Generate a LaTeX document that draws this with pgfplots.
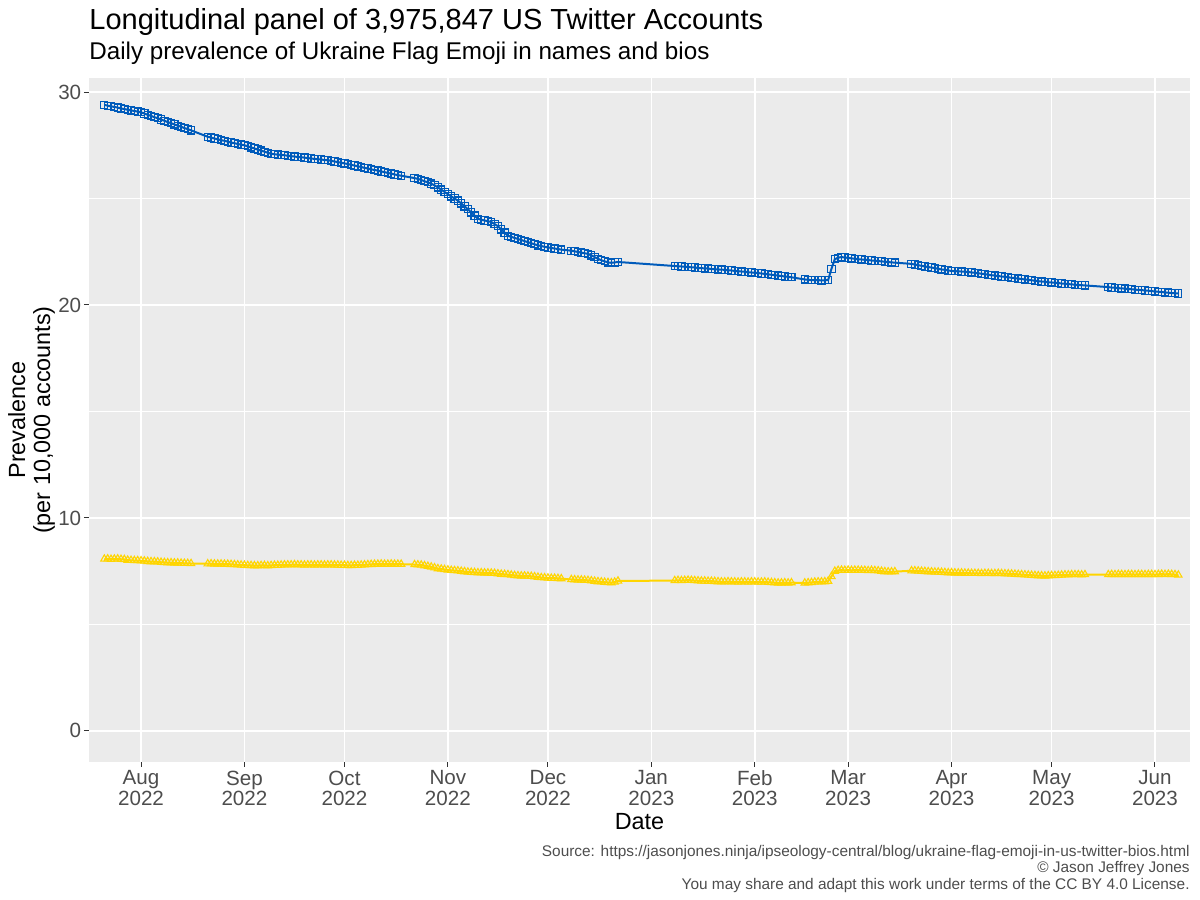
\documentclass[border=0pt]{standalone}
\usepackage{fontspec}
\setmainfont{Liberation Sans}
\usepackage{pgfplots}
\usepackage{pgfplotstable}
\pgfplotsset{compat=1.18}
\definecolor{ukblue}{HTML}{005BBB}
\definecolor{ukyellow}{HTML}{FFD500}
\definecolor{panelgray}{HTML}{EBEBEB}
\definecolor{gray30}{HTML}{4D4D4D}
\definecolor{gray20}{HTML}{333333}

\pgfplotstableread{
d v
-11 29.40
-10 29.36
-9 29.33
-8 29.30
-7 29.27
-6 29.23
-5 29.20
-4 29.17
-3 29.14
-2 29.11
-1 29.08
0 29.05
1 28.99
2 28.93
3 28.88
4 28.82
5 28.77
6 28.71
7 28.65
8 28.59
9 28.54
10 28.48
11 28.42
12 28.37
13 28.31
14 28.26
15 28.20
20 27.90
21 27.86
22 27.82
23 27.78
24 27.74
25 27.71
26 27.67
27 27.63
28 27.60
29 27.56
30 27.53
31 27.50
32 27.45
33 27.40
34 27.35
35 27.30
36 27.25
37 27.20
38 27.15
39 27.10
40 27.08
41 27.06
42 27.05
43 27.03
44 27.01
45 26.99
46 26.97
47 26.95
48 26.94
49 26.92
50 26.90
51 26.88
52 26.86
53 26.85
54 26.83
55 26.81
56 26.80
57 26.77
58 26.74
59 26.71
60 26.68
61 26.65
62 26.62
63 26.58
64 26.55
65 26.51
66 26.48
67 26.44
68 26.41
69 26.37
70 26.34
71 26.31
72 26.27
73 26.24
74 26.20
75 26.17
76 26.13
77 26.10
78 26.07
82 25.96
83 25.92
84 25.87
85 25.81
86 25.76
87 25.70
88 25.62
89 25.52
90 25.42
91 25.31
92 25.20
93 25.10
94 25.00
95 24.90
96 24.77
97 24.63
98 24.50
99 24.35
100 24.20
101 24.05
102 24.00
103 23.97
104 23.93
105 23.90
106 23.80
107 23.70
108 23.55
109 23.40
110 23.25
111 23.20
112 23.15
113 23.10
114 23.05
115 23.00
116 22.95
117 22.90
118 22.85
119 22.80
120 22.77
121 22.73
122 22.70
123 22.68
124 22.65
125 22.63
126 22.60
129 22.55
130 22.52
131 22.49
132 22.46
133 22.43
134 22.40
135 22.33
136 22.25
137 22.17
138 22.10
139 22.05
140 22.00
141 21.98
142 22.00
143 22.02
160 21.83
161 21.82
162 21.81
163 21.80
164 21.78
165 21.77
166 21.76
167 21.74
168 21.73
169 21.72
170 21.71
171 21.69
172 21.68
173 21.67
174 21.66
175 21.65
176 21.63
177 21.62
178 21.60
179 21.59
180 21.57
181 21.56
182 21.54
183 21.53
184 21.51
185 21.50
186 21.48
187 21.46
188 21.44
189 21.42
190 21.40
191 21.38
192 21.36
193 21.34
194 21.32
195 21.30
199 21.20
200 21.18
201 21.17
202 21.16
203 21.17
204 21.15
205 21.16
206 21.17
207 21.70
208 22.15
209 22.22
210 22.25
211 22.23
212 22.21
213 22.19
214 22.17
215 22.15
216 22.14
217 22.12
218 22.11
219 22.09
220 22.08
221 22.06
222 22.05
223 22.03
224 22.02
225 22.00
226 21.99
231 21.93
232 21.90
233 21.87
234 21.84
235 21.81
236 21.78
237 21.76
238 21.73
239 21.70
240 21.67
241 21.65
242 21.62
243 21.60
244 21.59
245 21.58
246 21.57
247 21.56
248 21.55
249 21.53
250 21.51
251 21.49
252 21.47
253 21.45
254 21.42
255 21.40
256 21.38
257 21.36
258 21.34
259 21.32
260 21.30
261 21.28
262 21.26
263 21.24
264 21.22
265 21.20
266 21.18
267 21.16
268 21.14
269 21.12
270 21.10
271 21.09
272 21.07
273 21.06
274 21.04
275 21.03
276 21.01
277 21.00
278 20.98
279 20.97
280 20.95
281 20.94
282 20.93
283 20.92
290 20.84
291 20.82
292 20.81
293 20.79
294 20.78
295 20.77
296 20.75
297 20.74
298 20.72
299 20.71
300 20.70
301 20.68
302 20.67
303 20.65
304 20.64
305 20.62
306 20.61
307 20.59
308 20.58
309 20.56
310 20.55
311 20.54
}\blueseries

\pgfplotstableread{
d v
-11 8.07
-10 8.08
-9 8.06
-8 8.07
-7 8.08
-6 8.06
-5 8.05
-4 8.02
-3 8.01
-2 8.00
-1 8.00
0 7.99
1 7.98
2 7.96
3 7.95
4 7.95
5 7.94
6 7.92
7 7.91
8 7.90
9 7.90
10 7.89
11 7.89
12 7.88
13 7.87
14 7.87
15 7.86
20 7.85
21 7.85
22 7.84
23 7.84
24 7.84
25 7.83
26 7.83
27 7.82
28 7.81
29 7.80
30 7.79
31 7.78
32 7.77
33 7.77
34 7.76
35 7.76
36 7.77
37 7.77
38 7.76
39 7.77
40 7.78
41 7.78
42 7.79
43 7.80
44 7.80
45 7.80
46 7.81
47 7.80
48 7.80
49 7.79
50 7.80
51 7.80
52 7.79
53 7.80
54 7.80
55 7.79
56 7.80
57 7.80
58 7.79
59 7.79
60 7.78
61 7.78
62 7.77
63 7.77
64 7.78
65 7.78
66 7.79
67 7.80
68 7.81
69 7.82
70 7.83
71 7.83
72 7.84
73 7.83
74 7.83
75 7.84
76 7.83
77 7.83
78 7.83
82 7.81
83 7.80
84 7.79
85 7.76
86 7.73
87 7.70
88 7.66
89 7.62
90 7.60
91 7.58
92 7.56
93 7.54
94 7.53
95 7.52
96 7.50
97 7.48
98 7.46
99 7.45
100 7.44
101 7.43
102 7.43
103 7.42
104 7.42
105 7.41
106 7.40
107 7.38
108 7.36
109 7.35
110 7.34
111 7.32
112 7.30
113 7.29
114 7.28
115 7.28
116 7.27
117 7.26
118 7.24
119 7.22
120 7.20
121 7.19
122 7.18
123 7.17
124 7.17
125 7.16
126 7.15
129 7.11
130 7.10
131 7.09
132 7.09
133 7.08
134 7.07
135 7.05
136 7.03
137 7.01
138 7.00
139 6.98
140 6.97
141 6.96
142 6.99
143 7.04
160 7.06
161 7.07
162 7.06
163 7.07
164 7.08
165 7.07
166 7.06
167 7.05
168 7.04
169 7.04
170 7.03
171 7.03
172 7.02
173 7.01
174 7.00
175 7.00
176 7.01
177 7.00
178 7.00
179 6.99
180 7.00
181 7.00
182 6.99
183 7.00
184 7.00
185 6.99
186 6.99
187 7.00
188 6.98
189 6.97
190 6.96
191 6.95
192 6.95
193 6.96
194 6.95
195 6.96
199 6.95
200 6.96
201 6.97
202 6.99
203 7.00
204 7.00
205 7.01
206 7.03
207 7.25
208 7.50
209 7.54
210 7.55
211 7.54
212 7.55
213 7.54
214 7.55
215 7.55
216 7.54
217 7.54
218 7.53
219 7.54
220 7.53
221 7.52
222 7.50
223 7.48
224 7.47
225 7.47
226 7.48
231 7.52
232 7.52
233 7.51
234 7.50
235 7.49
236 7.48
237 7.47
238 7.46
239 7.46
240 7.45
241 7.44
242 7.43
243 7.43
244 7.42
245 7.42
246 7.42
247 7.41
248 7.41
249 7.40
250 7.40
251 7.40
252 7.39
253 7.40
254 7.40
255 7.39
256 7.39
257 7.40
258 7.39
259 7.38
260 7.38
261 7.37
262 7.36
263 7.35
264 7.34
265 7.33
266 7.32
267 7.31
268 7.30
269 7.29
270 7.29
271 7.28
272 7.29
273 7.30
274 7.30
275 7.31
276 7.32
277 7.33
278 7.33
279 7.34
280 7.34
281 7.34
282 7.33
283 7.34
290 7.34
291 7.35
292 7.34
293 7.35
294 7.35
295 7.34
296 7.35
297 7.35
298 7.34
299 7.35
300 7.35
301 7.34
302 7.35
303 7.35
304 7.34
305 7.35
306 7.36
307 7.35
308 7.36
309 7.35
310 7.34
311 7.32
}\yellowseries

\begin{document}
\begin{tikzpicture}
\path[use as bounding box] (0,0) rectangle (600bp,450bp);
\begin{axis}[
  at={(44.5bp,69bp)}, anchor=south west,
  scale only axis, width=550.5bp, height=342bp,
  xmin=-15.6, xmax=314.5, ymin=-1.46, ymax=30.66,
  axis background/.style={fill=panelgray},
  axis line style={draw=none},
  xtick={0,31,61,92,122,153,184,212,243,273,304},
  xticklabels={{Aug\\2022},{Sep\\2022},{Oct\\2022},{Nov\\2022},{Dec\\2022},{Jan\\2023},{Feb\\2023},{Mar\\2023},{Apr\\2023},{May\\2023},{Jun\\2023}},
  ytick={0,10,20,30},
  minor ytick={5,15,25},
  minor tick length=0pt,
  major tick length=2.5bp,
  tick align=outside,
  xtick pos=bottom, ytick pos=left,
  tick style={draw=gray20, line width=0.5bp},
  grid=major,
  major grid style={draw=white, line width=0.8bp},
  minor y grid style={draw=white, line width=0.4bp},
  yminorgrids=true,
  /pgf/number format/assume math mode=true,
  xticklabel style={align=center, font=\fontsize{10.3bp}{10.1bp}\selectfont, text=gray30, inner sep=0.5bp, yshift=-1.2bp},
  yticklabel style={font=\fontsize{10.3bp}{11bp}\selectfont, text=gray30, inner sep=1.2bp},
  clip=true,
]
\addplot[color=ukyellow, line width=1bp, mark=triangle, mark size=2.1bp, mark options={solid, line width=0.55bp}] table[x=d, y=v] {\yellowseries};
\addplot[color=ukblue, line width=1bp, mark=square, mark size=1.8bp, mark options={solid, line width=0.55bp}] table[x=d, y=v] {\blueseries};
\end{axis}
\node[anchor=base west, inner sep=0pt, font=\fontsize{14.5bp}{16bp}\selectfont] at (44.5bp,435.3bp) {Longitudinal panel of 3,975,847 US Twitter Accounts};
\node[anchor=base west, inner sep=0pt, font=\fontsize{12.1bp}{14bp}\selectfont] at (44.5bp,420bp) {Daily prevalence of Ukraine Flag Emoji in names and bios};
\node[anchor=base, inner sep=0pt, rotate=90, font=\fontsize{11.7bp}{13bp}\selectfont] at (12.5bp,240bp) {Prevalence};
\node[anchor=base, inner sep=0pt, rotate=90, font=\fontsize{11.7bp}{13bp}\selectfont] at (25bp,240bp) {(per 10,000 accounts)};
\node[anchor=base, inner sep=0pt, font=\fontsize{11.7bp}{13bp}\selectfont] at (319.75bp,35.35bp) {Date};
\node[anchor=base east, inner sep=0pt, text=gray30, font=\fontsize{7.7bp}{9bp}\selectfont] at (595bp,22bp) {Source: https://jasonjones.ninja/ipseology-central/blog/ukraine-flag-emoji-in-us-twitter-bios.html};
\node[anchor=base east, inner sep=0pt, text=gray30, font=\fontsize{7.7bp}{9bp}\selectfont] at (595bp,14bp) {© Jason Jeffrey Jones};
\node[anchor=base east, inner sep=0pt, text=gray30, font=\fontsize{7.7bp}{9bp}\selectfont] at (595bp,5.5bp) {You may share and adapt this work under terms of the CC BY 4.0 License.};
\end{tikzpicture}
\end{document}
